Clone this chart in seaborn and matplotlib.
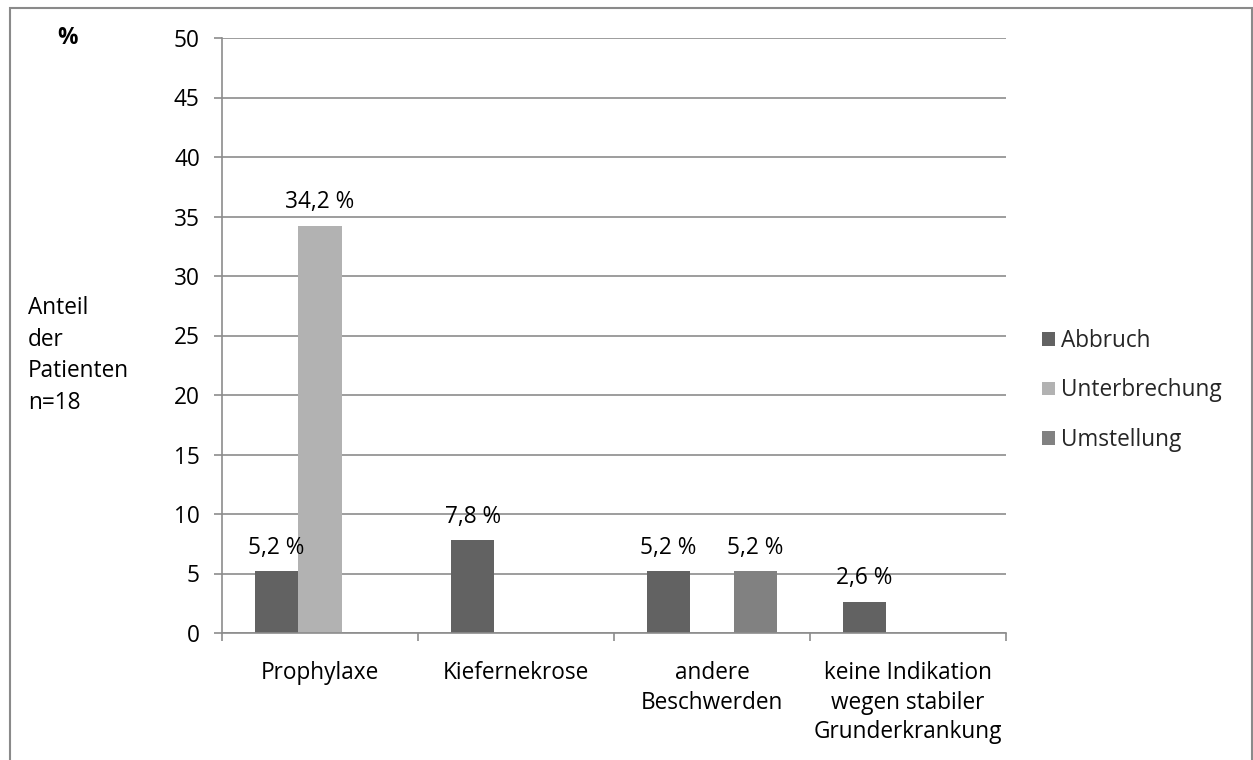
import matplotlib
matplotlib.use("Agg")
import matplotlib.pyplot as plt
from matplotlib.patches import Rectangle, Patch
import pandas as pd
import seaborn as sns

categories = ["Prophylaxe", "Kiefernekrose", "andere\nBeschwerden",
              "keine Indikation\nwegen stabiler\nGrunderkrankung"]
series = ["Abbruch", "Unterbrechung", "Umstellung"]
abbruch = [5.2, 7.8, 5.2, 2.6]
unterbrechung = [34.2, 0.0, 0.0, 0.0]
umstellung = [0.0, 0.0, 5.2, 0.0]
y_ticks = [0, 5, 10, 15, 20, 25, 30, 35, 40, 45, 50]
colors = ["#626262", "#b2b2b2", "#818181"]

rows = []
for name, vals in zip(series, [abbruch, unterbrechung, umstellung]):
    for cat, v in zip(categories, vals):
        rows.append({"Kategorie": cat, "Serie": name, "Wert": v})
df = pd.DataFrame(rows)

sns.set_theme(style="white")
plt.rcParams["font.family"] = ["Open Sans", "DejaVu Sans"]
font_size = 16.3
grid_col = "#8c8c8c"

fig = plt.figure(figsize=(12.53, 7.6), dpi=100)
ax = fig.add_axes([222 / 1253, 1 - 633 / 760, (1006 - 222) / 1253, (633 - 38) / 760])

sns.barplot(data=df, x="Kategorie", y="Wert", hue="Serie", order=categories,
            hue_order=series, palette=colors, width=0.663, linewidth=0,
            saturation=1, legend=False, ax=ax)

# value labels above non-empty bars
for container, vals in zip(ax.containers, [abbruch, unterbrechung, umstellung]):
    for bar, v in zip(container, vals):
        if v > 0:
            ax.annotate(f"{v:.1f} %".replace(".", ","),
                        (bar.get_x() + bar.get_width() / 2, bar.get_height()),
                        xytext=(0, 17), textcoords="offset points",
                        ha="center", va="center", fontsize=font_size, color="#000000")

ax.set_ylim(0, 50)
ax.set_xlim(-0.5, len(categories) - 0.5)
ax.set_yticks(y_ticks)
ax.set_yticklabels([str(t) for t in y_ticks], fontsize=font_size, color="#000000")
ax.yaxis.grid(True, color=grid_col, linewidth=1.2)
ax.set_axisbelow(True)

# category labels centred, tick marks at category boundaries
ax.set_xticks(range(len(categories)))
ax.set_xticklabels(categories, fontsize=font_size, color="#000000", linespacing=1.32)
ax.tick_params(axis="x", length=0, pad=20)
ax.set_xticks([i - 0.5 for i in range(len(categories) + 1)], minor=True)
ax.tick_params(axis="x", which="minor", length=6, width=1.2, color=grid_col, bottom=True)
ax.tick_params(axis="y", length=6, width=1.2, color=grid_col, left=True, pad=10)
for side in ["top", "right"]:
    ax.spines[side].set_visible(False)
for side in ["left", "bottom"]:
    ax.spines[side].set_color(grid_col)
    ax.spines[side].set_linewidth(1.2)
ax.set_xlabel("")
ax.set_ylabel("")

fig.text(68 / 1253, 1 - 38 / 760, "%", fontsize=font_size, fontweight="bold",
         ha="center", va="center", color="#000000")
fig.text(28 / 1253, 1 - 296 / 760, "Anteil\nder\nPatienten\nn=18", fontsize=font_size,
         ha="left", va="top", linespacing=1.43, color="#000000")

handles = [Patch(facecolor=c, edgecolor="none") for c in colors]
fig.legend(handles, series, loc="upper left", bbox_to_anchor=(1033 / 1253, 1 - 320 / 760),
           frameon=False, fontsize=font_size, handlelength=0.55, handleheight=0.55,
           handletextpad=0.3, labelspacing=1.12, borderaxespad=0)

fig.patches.append(Rectangle((9.5 / 1253, -0.01), (1251.5 - 9.5) / 1253, 1.01 - 7.5 / 760,
                             transform=fig.transFigure, fill=False,
                             edgecolor="#8a8a8a", linewidth=1.5))

fig.savefig("out.png", dpi=100, facecolor="white")
